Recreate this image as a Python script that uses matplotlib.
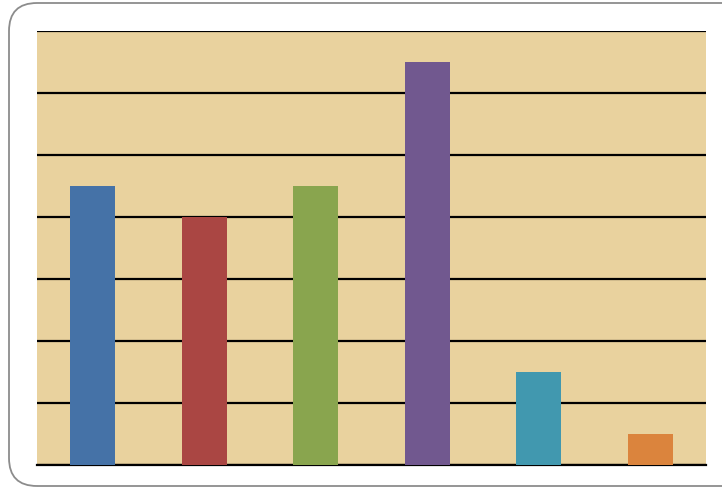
import matplotlib
matplotlib.use("Agg")
import matplotlib.pyplot as plt
from matplotlib.patches import FancyBboxPatch

categories = ["A", "B", "C", "D", "E", "F"]
values = [4.5, 4.0, 4.5, 6.5, 1.5, 0.5]
colors = ["#4572A7", "#AA4643", "#89A54E", "#71588F", "#4198AF", "#DB843D"]
yticks = [0, 1, 2, 3, 4, 5, 6, 7]

fig = plt.figure(figsize=(7.22, 4.89), dpi=100)
fig.patch.set_facecolor("white")

# frame overlay in pixel units (y up)
bg = fig.add_axes([0, 0, 1, 1], zorder=0)
bg.set_xlim(0, 722)
bg.set_ylim(0, 489)
bg.axis("off")
bg.set_facecolor("none")
border = FancyBboxPatch((9, 2), 800, 483,
                        boxstyle="round,pad=0,rounding_size=28",
                        facecolor="none", edgecolor="#8c8c8c",
                        linewidth=1.3, clip_on=False)
bg.add_patch(border)

ax = fig.add_axes([37 / 722, 23 / 489, 669 / 722, 434 / 489], zorder=1)
ax.set_facecolor("#E9D29E")
x = range(len(categories))
ax.bar(x, values, width=0.4, color=colors, zorder=3)
ax.set_xlim(-0.5, len(categories) - 0.5)
ax.set_ylim(0, 7)
ax.set_yticks(yticks)
ax.yaxis.grid(True, color="black", linewidth=1.6, zorder=1)
ax.set_axisbelow(True)
ax.set_xticks([])
ax.tick_params(left=False, labelleft=False)
for s in ["left", "right", "top"]:
    ax.spines[s].set_visible(False)
ax.spines["bottom"].set_color("black")
ax.spines["bottom"].set_linewidth(1.6)

fig.savefig("out.png", dpi=100)
